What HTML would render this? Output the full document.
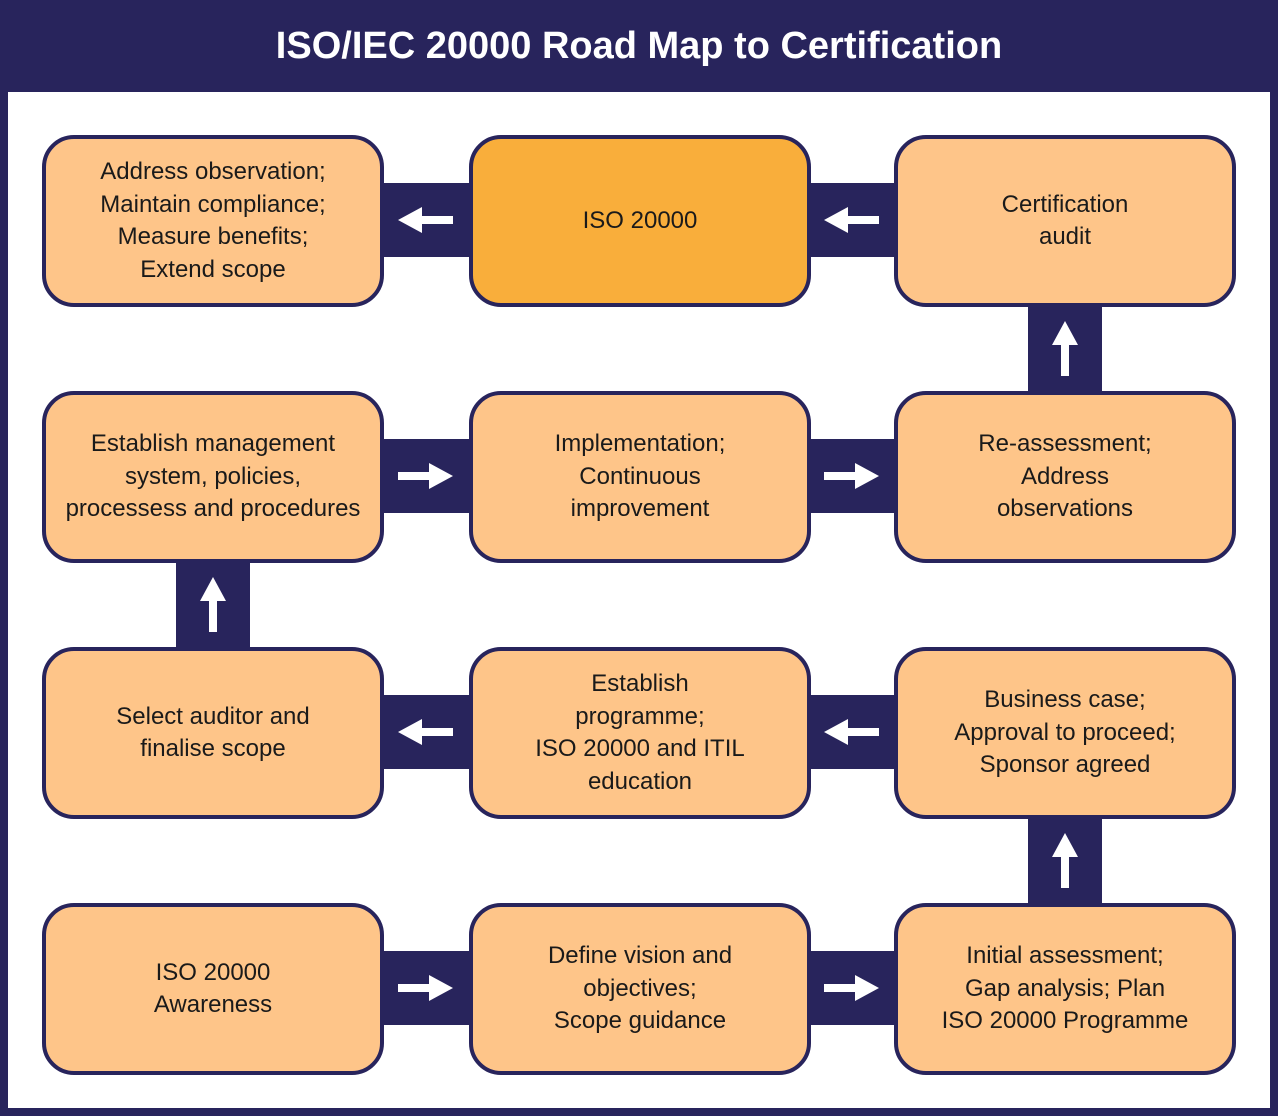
<!DOCTYPE html>
<html><head><style>
body{margin:0;width:1278px;height:1116px;background:#28245c;position:relative;overflow:hidden;font-family:"Liberation Sans",sans-serif}
.hdr{position:absolute;left:0;top:0;width:1278px;height:92px;color:#fff;font-weight:bold;font-size:38px;text-align:center;line-height:92px}
.in{position:absolute;left:8px;top:92px;width:1262px;height:1016px;background:#fff}
.b{position:absolute;width:334px;height:164px;border:4px solid #28245c;border-radius:32px;background:#fec589;display:flex;align-items:center;justify-content:center;text-align:center;font-size:24px;line-height:32.5px;color:#1a1a1a;box-sizing:content-box}
.h{position:absolute;width:90px;height:74px;background:#28245c}
.v{position:absolute;width:74px;height:90px;background:#28245c}
svg{position:absolute;left:0;top:0}
</style></head><body>
<div class="hdr">ISO/IEC 20000 Road Map to Certification</div>
<div class="in"></div>
<div class="h" style="left:381px;top:183px"></div><div class="h" style="left:806px;top:183px"></div>
<div class="h" style="left:381px;top:439px"></div><div class="h" style="left:806px;top:439px"></div>
<div class="h" style="left:381px;top:695px"></div><div class="h" style="left:806px;top:695px"></div>
<div class="h" style="left:381px;top:951px"></div><div class="h" style="left:806px;top:951px"></div>
<div class="v" style="left:1028px;top:303px"></div>
<div class="v" style="left:176px;top:559px"></div>
<div class="v" style="left:1028px;top:815px"></div>
<div class="b" style="left:42px;top:135px">Address observation;<br>Maintain compliance;<br>Measure benefits;<br>Extend scope</div>
<div class="b" style="left:469px;top:135px;background:#f9ae3b">ISO 20000</div>
<div class="b" style="left:894px;top:135px">Certification<br>audit</div>
<div class="b" style="left:42px;top:391px">Establish management<br>system, policies,<br>processess and procedures</div>
<div class="b" style="left:469px;top:391px">Implementation;<br>Continuous<br>improvement</div>
<div class="b" style="left:894px;top:391px">Re-assessment;<br>Address<br>observations</div>
<div class="b" style="left:42px;top:647px">Select auditor and<br>finalise scope</div>
<div class="b" style="left:469px;top:647px">Establish<br>programme;<br>ISO 20000 and ITIL<br>education</div>
<div class="b" style="left:894px;top:647px">Business case;<br>Approval to proceed;<br>Sponsor agreed</div>
<div class="b" style="left:42px;top:903px">ISO 20000<br>Awareness</div>
<div class="b" style="left:469px;top:903px">Define vision and<br>objectives;<br>Scope guidance</div>
<div class="b" style="left:894px;top:903px">Initial assessment;<br>Gap analysis; Plan<br>ISO 20000 Programme</div>
<svg width="1278" height="1116" fill="#fff">
<defs>
<path id="L" d="M0,0 L24,-13 L24,-4 L55,-4 L55,4 L24,4 L24,13 Z"/>
<path id="R" d="M55,0 L31,-13 L31,-4 L0,-4 L0,4 L31,4 L31,13 Z"/>
<path id="U" d="M0,0 L-13,24 L-4,24 L-4,55 L4,55 L4,24 L13,24 Z"/>
</defs>
<use href="#L" x="398" y="220"/><use href="#L" x="824" y="220"/>
<use href="#R" x="398" y="476"/><use href="#R" x="824" y="476"/>
<use href="#L" x="398" y="732"/><use href="#L" x="824" y="732"/>
<use href="#R" x="398" y="988"/><use href="#R" x="824" y="988"/>
<use href="#U" x="1065" y="321"/><use href="#U" x="213" y="577"/><use href="#U" x="1065" y="833"/>
</svg>
</body></html>
